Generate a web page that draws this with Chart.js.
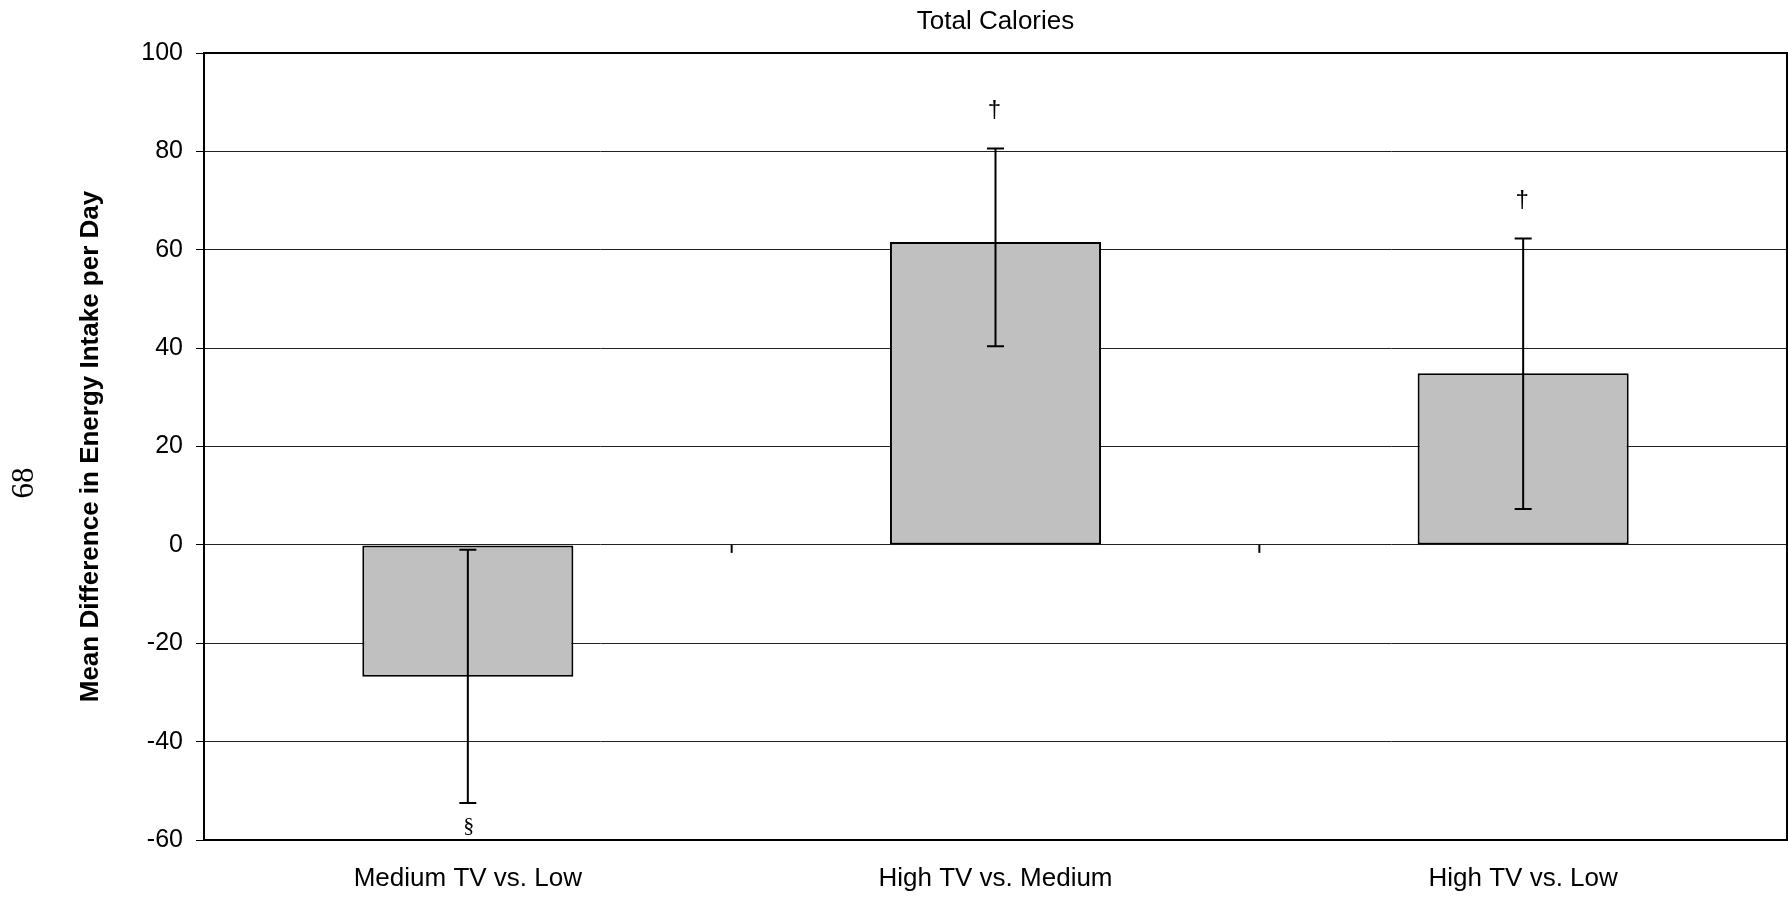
<!DOCTYPE html>
<html>
<head>
<meta charset="utf-8">
<script src="https://cdn.jsdelivr.net/npm/chart.js@4"></script>
<style>
  body { margin: 0; background: #fff; }
</style>
</head>
<body>
<canvas id="tvChart" width="1788" height="898"></canvas>
<script>
'use strict';
const categories = ['Medium TV vs. Low', 'High TV vs. Medium', 'High TV vs. Low'];
const meanDiff = [-26.8, 61.6, 34.9];
const errLow = [-52.5, 40.4, 7.3];
const errHigh = [-1.0, 80.6, 62.3];
const markers = ['§', '†', '†'];
const markerBelow = [true, false, false];
const yMin = -60, yMax = 100, yStep = 20;

// error bars, significance marks, category ticks on the zero line, frame
const extras = {
  id: 'extras',
  afterDatasetsDraw(chart) {
    const ctx = chart.ctx;
    const y = chart.scales.y;
    const x = chart.scales.x;
    const area = chart.chartArea;
    const bars = chart.getDatasetMeta(0).data;
    ctx.save();
    ctx.strokeStyle = '#000';
    ctx.fillStyle = '#000';

    // small ticks between categories, hanging from the zero line
    ctx.lineWidth = 2;
    const zero = y.getPixelForValue(0);
    for (let i = 0; i < categories.length - 1; i++) {
      const bx = (x.getPixelForValue(i) + x.getPixelForValue(i + 1)) / 2;
      ctx.beginPath();
      ctx.moveTo(bx, zero);
      ctx.lineTo(bx, zero + 8);
      ctx.stroke();
    }

    bars.forEach((bar, i) => {
      const cx = bar.x;
      const lo = y.getPixelForValue(errLow[i]);
      const hi = y.getPixelForValue(errHigh[i]);
      ctx.lineWidth = 2;
      ctx.beginPath();
      ctx.moveTo(cx, lo);
      ctx.lineTo(cx, hi);
      ctx.moveTo(cx - 8.5, lo);
      ctx.lineTo(cx + 8.5, lo);
      ctx.moveTo(cx - 8.5, hi);
      ctx.lineTo(cx + 8.5, hi);
      ctx.stroke();

      ctx.textAlign = 'center';
      ctx.textBaseline = 'middle';
      if (markerBelow[i]) {
        ctx.font = '22px "Liberation Serif"';
        ctx.fillText(markers[i], cx + 1, lo + 23);
      } else {
        ctx.font = '24px "Liberation Sans"';
        ctx.fillText(markers[i], cx - 1, hi - 38);
      }
    });

    // plot frame
    ctx.lineWidth = 2;
    ctx.strokeRect(area.left, area.top, area.right - area.left, area.bottom - area.top);
    ctx.restore();
  },
  afterDraw(chart) {
    const ctx = chart.ctx;
    ctx.save();
    ctx.translate(25, 483);
    ctx.rotate(-Math.PI / 2);
    ctx.font = '31px "Liberation Serif"';
    ctx.fillStyle = '#000';
    ctx.textAlign = 'center';
    ctx.textBaseline = 'middle';
    ctx.fillText('68', 0, 0);
    ctx.restore();
  }
};

Chart.defaults.font.family = '"Liberation Sans", Arial, sans-serif';
Chart.defaults.color = '#000';

new Chart(document.getElementById('tvChart').getContext('2d'), {
  type: 'bar',
  data: {
    labels: categories,
    datasets: [{
      data: meanDiff,
      backgroundColor: '#c0c0c0',
      borderColor: '#000',
      borderWidth: 2,
      borderSkipped: false,
      categoryPercentage: 1,
      barPercentage: 0.4
    }]
  },
  options: {
    responsive: false,
    animation: false,
    layout: { padding: { left: 0, right: 1, top: 0, bottom: 0 } },
    plugins: {
      legend: { display: false },
      tooltip: { enabled: false },
      title: {
        display: true,
        text: 'Total Calories',
        fullSize: false,
        font: { size: 26, weight: 'normal', lineHeight: 1.2 },
        padding: { top: 6, bottom: 15.8 }
      }
    },
    scales: {
      x: {
        grid: { display: false, drawTicks: false },
        border: { display: false },
        ticks: { font: { size: 26 }, padding: 23, maxRotation: 0 },
        afterFit(scale) { scale.height = 58; }
      },
      y: {
        min: yMin,
        max: yMax,
        ticks: { stepSize: yStep, font: { size: 25 }, padding: 13 },
        grid: { color: '#222', lineWidth: 1, tickLength: 8, tickColor: '#000' },
        border: { display: true, color: '#000', width: 2 },
        title: {
          display: true,
          text: 'Mean Difference in Energy Intake per Day',
          font: { size: 26, weight: 'bold', lineHeight: 1.2 },
          padding: { top: 75.4, bottom: 0 }
        },
        afterFit(scale) { scale.width = 204; }
      }
    }
  },
  plugins: [extras]
});
</script>
</body>
</html>
